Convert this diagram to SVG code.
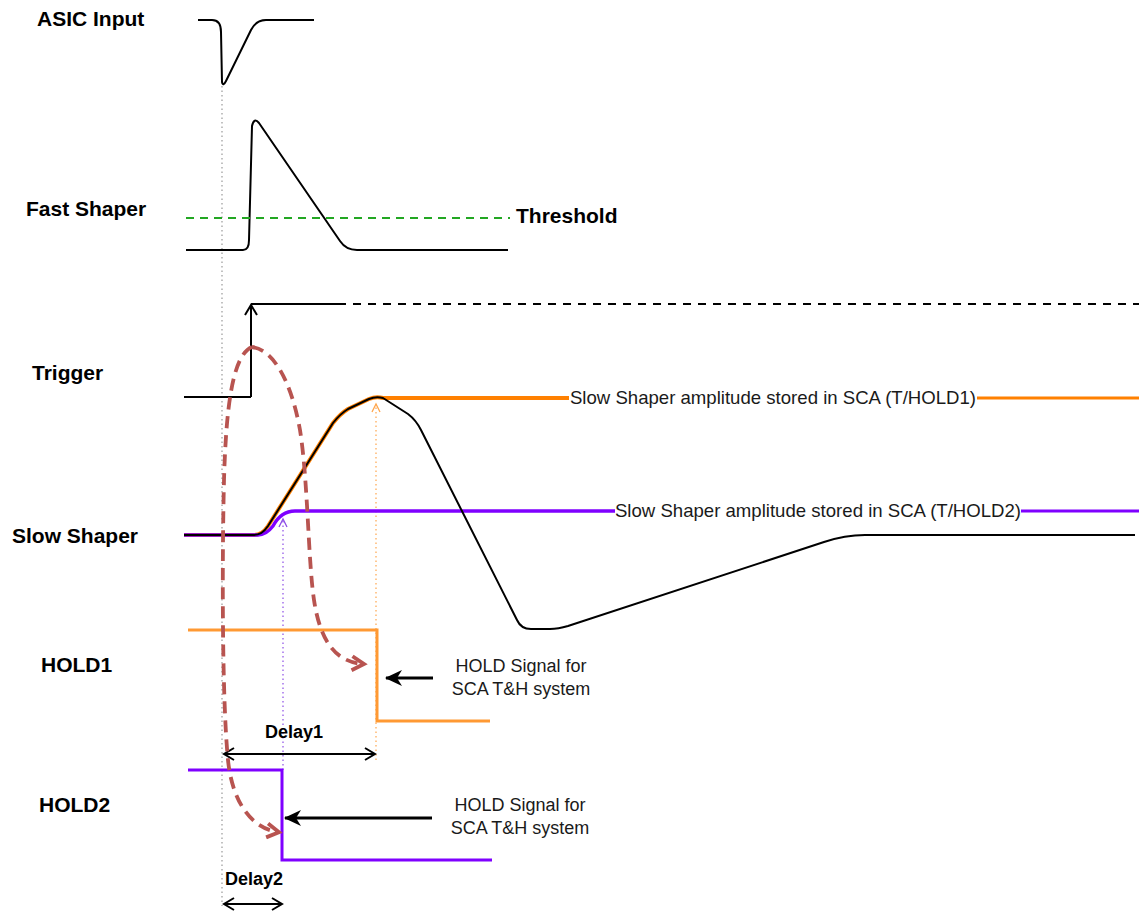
<svg xmlns="http://www.w3.org/2000/svg" width="1139" height="911" viewBox="0 0 1139 911">
<style>
.lbl{font-family:"Liberation Sans",Arial,sans-serif;font-weight:bold;font-size:21px;fill:#000}
.note{font-family:"Liberation Sans",Arial,sans-serif;font-size:18px;fill:#1a1a1a}
.amp{font-family:"Liberation Sans",Arial,sans-serif;font-size:18.6px;fill:#1a1a1a}
.dl{font-family:"Liberation Sans",Arial,sans-serif;font-weight:bold;font-size:18px;fill:#000}
.sig{fill:none;stroke:#000;stroke-width:2;stroke-linejoin:round}
.red{fill:none;stroke:#b85450;stroke-width:3.8;stroke-dasharray:12 7}
</style>
<defs>
<marker id="chev" markerUnits="userSpaceOnUse" markerWidth="16" markerHeight="16" refX="12" refY="8" orient="auto-start-reverse" viewBox="0 0 16 16">
<path d="M2,2 L12,8 L2,14" fill="none" stroke="#000" stroke-width="2"/>
</marker>
<marker id="fill" markerUnits="userSpaceOnUse" markerWidth="20" markerHeight="18" refX="16" refY="9" orient="auto" viewBox="0 0 20 18">
<path d="M0,1 L17,9 L0,17 L5,9 Z" fill="#000"/>
</marker>
<marker id="redh" markerUnits="userSpaceOnUse" markerWidth="18" markerHeight="18" refX="13" refY="9" orient="auto" viewBox="0 0 18 18">
<path d="M2,2 L14,9 L2,16" fill="none" stroke="#b85450" stroke-width="3.8"/>
</marker>
<marker id="orh" markerUnits="userSpaceOnUse" markerWidth="12" markerHeight="12" refX="10" refY="6" orient="auto" viewBox="0 0 12 12">
<path d="M2,2 L10,6 L2,10" fill="none" stroke="#ffa64d" stroke-width="1.3"/>
</marker>
<marker id="puh" markerUnits="userSpaceOnUse" markerWidth="12" markerHeight="12" refX="10" refY="6" orient="auto" viewBox="0 0 12 12">
<path d="M2,2 L10,6 L2,10" fill="none" stroke="#8c4de6" stroke-width="1.3"/>
</marker>
</defs>
<rect width="1139" height="911" fill="#fff"/>

<g id="guides">
<line x1="222" y1="86" x2="222" y2="906" stroke="#999" stroke-width="1.2" stroke-dasharray="1.5 3"/>
<line x1="376" y1="760" x2="376" y2="404" stroke="#ffa64d" stroke-width="1.2" stroke-dasharray="1.5 3" marker-end="url(#orh)"/>
<line x1="283" y1="770" x2="283" y2="519" stroke="#8c4de6" stroke-width="1.2" stroke-dasharray="1.5 3" marker-end="url(#puh)"/>
</g>

<g id="asic-input">
<text class="lbl" x="37" y="26">ASIC Input</text>
<path class="sig" d="M198,20 L212,20 Q221,20 221,32 L222,82 Q223,87 226,81 L251,30 Q256,20 266,20 L314,20"/>
</g>

<g id="fast-shaper">
<text class="lbl" x="26" y="216">Fast Shaper</text>
<path class="sig" d="M186,250 L243,250 Q249,250 249,240 L252,126 Q254,117 259,123 L340,241 Q346,250 357,250 L508,250"/>
<line x1="186" y1="218" x2="510" y2="218" stroke="#22a722" stroke-width="2.2" stroke-dasharray="8 6"/>
<text class="lbl" x="516" y="223">Threshold</text>
</g>

<g id="trigger">
<text class="lbl" x="32" y="380">Trigger</text>
<path class="sig" d="M184,397 L251,397"/>
<line x1="251" y1="397" x2="251" y2="305" stroke="#000" stroke-width="2" marker-end="url(#chev)"/>
<path class="sig" d="M251,304 L338,304"/>
<line x1="338" y1="304" x2="1139" y2="304" stroke="#000" stroke-width="2" stroke-dasharray="8 7"/>
</g>

<g id="slow-shaper">
<text class="lbl" x="12" y="543">Slow Shaper</text>
<path d="M184,535 L254,535 Q262,535 268,526 L333,423 Q340,414 348,409 L369,399 Q376,396 383,398 L569,398" fill="none" stroke="#ff8000" stroke-width="4"/>
<path d="M977,398 L1139,398" fill="none" stroke="#ff8000" stroke-width="3"/>
<path d="M184,535 L258,535 Q266,535 273,526 Q281,511 295,511 L615,511" fill="none" stroke="#7f00ff" stroke-width="3.5"/>
<path d="M1021,511 L1139,511" fill="none" stroke="#7f00ff" stroke-width="3"/>
<path class="sig" d="M184,535 L254,535 Q262,535 268,526 L333,423 Q340,414 348,409 L369,399 Q376,396 383,398 L408,414 Q416,420 421,430 L517,620 Q521,629 531,629 L550,629 Q558,629 568,626 L824,542 Q845,535 865,535 L1135,535"/>
<text class="amp" x="773" y="404" text-anchor="middle">Slow Shaper amplitude stored in SCA (T/HOLD1)</text>
<text class="amp" x="818" y="517" text-anchor="middle">Slow Shaper amplitude stored in SCA (T/HOLD2)</text>
</g>

<g id="hold1">
<text class="lbl" x="41" y="672">HOLD1</text>
<path d="M188,630 L377,630 L377,721 L490,721" fill="none" stroke="#ff9933" stroke-width="3"/>
<text class="note" x="521" y="672" text-anchor="middle">HOLD Signal for</text>
<text class="note" x="521" y="695" text-anchor="middle">SCA T&amp;H system</text>
</g>

<g id="hold2">
<text class="lbl" x="39" y="812">HOLD2</text>
<path d="M188,770 L282,770 L282,860 L492,860" fill="none" stroke="#7f00ff" stroke-width="3"/>
<text class="note" x="520" y="811" text-anchor="middle">HOLD Signal for</text>
<text class="note" x="520" y="834" text-anchor="middle">SCA T&amp;H system</text>
</g>

<g id="delays">
<text class="dl" x="294" y="738" text-anchor="middle">Delay1</text>
<line x1="224" y1="754" x2="375" y2="754" stroke="#000" stroke-width="2" marker-start="url(#chev)" marker-end="url(#chev)"/>
<text class="dl" x="254" y="885" text-anchor="middle">Delay2</text>
<line x1="224" y1="904" x2="282" y2="904" stroke="#000" stroke-width="2" marker-start="url(#chev)" marker-end="url(#chev)"/>
</g>

<g id="connectors">
<line x1="433" y1="678" x2="386" y2="678" stroke="#000" stroke-width="3" marker-end="url(#fill)"/>
<line x1="432" y1="818" x2="285" y2="818" stroke="#000" stroke-width="3" marker-end="url(#fill)"/>
<path class="red" d="M252,347 C275,350 292,385 300,430 C308,480 308,560 314,600 C320,640 335,662 363,664" marker-end="url(#redh)"/>
<path class="red" d="M252,347 C232,355 226,410 224,480 C222,560 222,700 228,760 C232,800 250,828 278,832" marker-end="url(#redh)"/>
</g>
</svg>
